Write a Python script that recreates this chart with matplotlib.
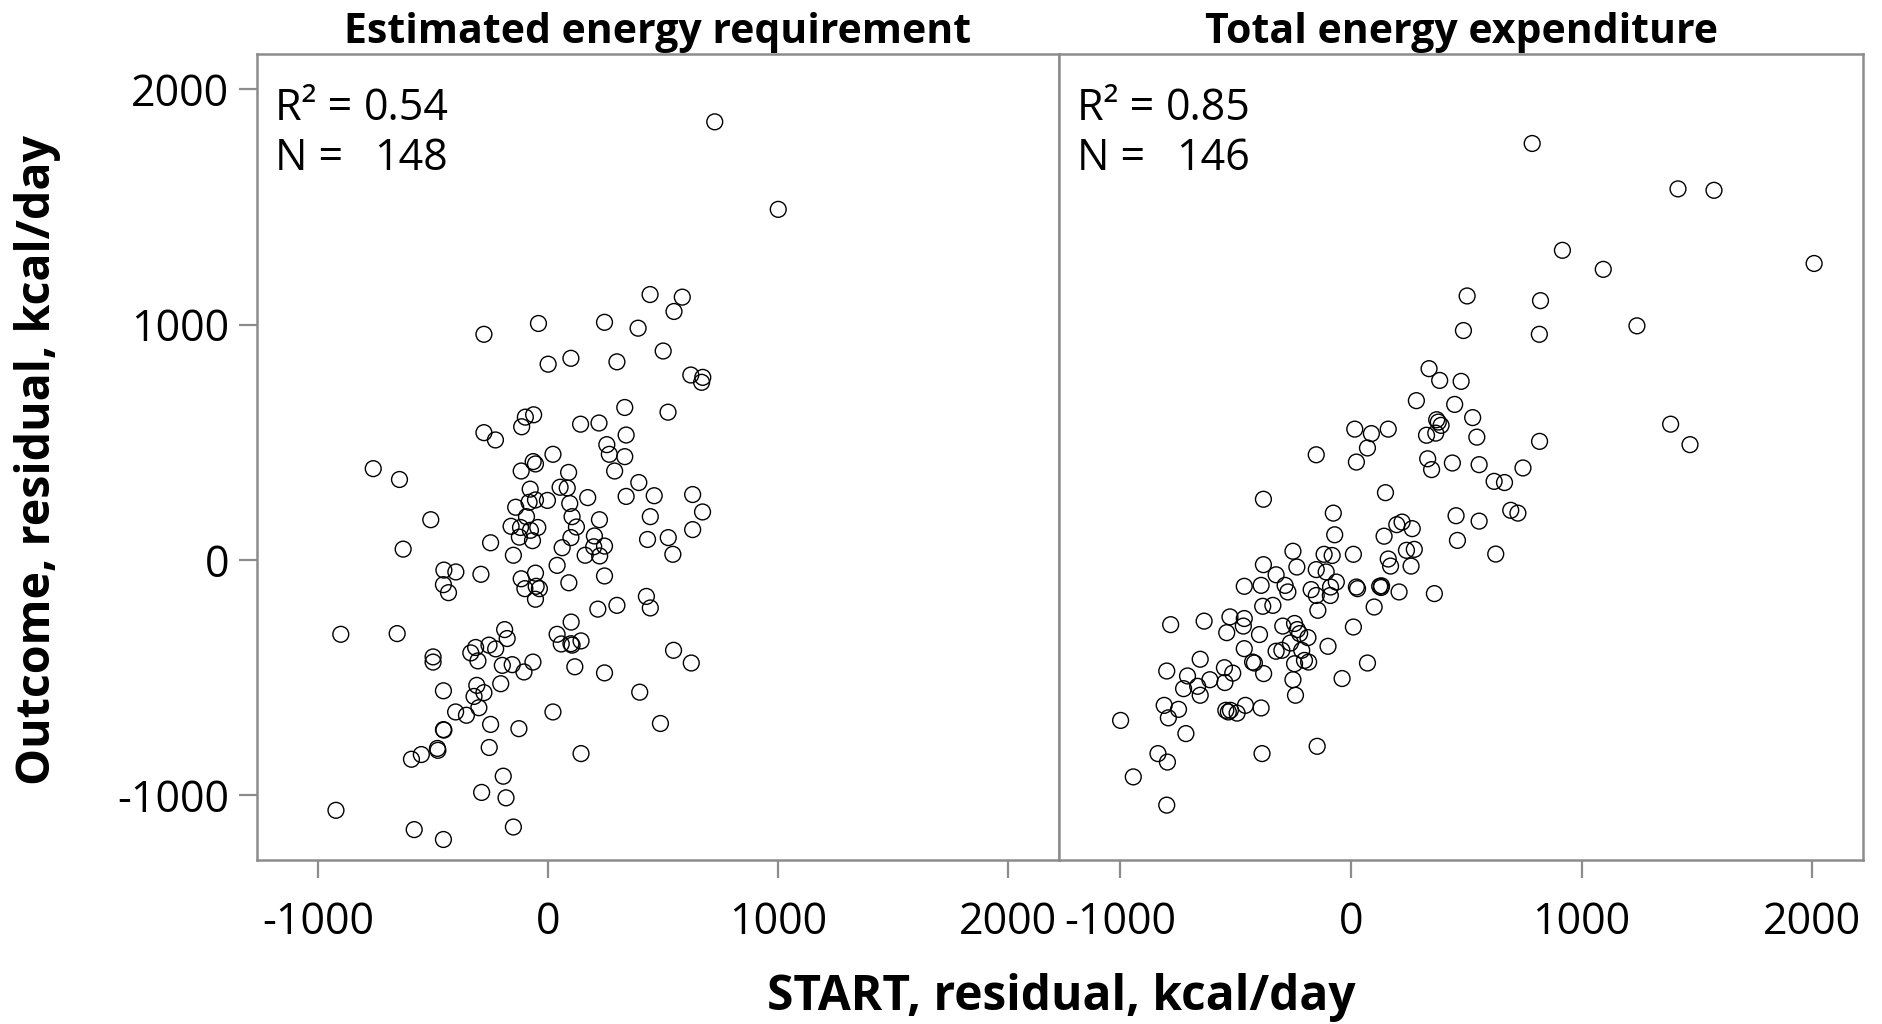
import numpy as np
import matplotlib
matplotlib.use("Agg")
import matplotlib.pyplot as plt

plt.rcParams['font.family'] = ['Open Sans', 'DejaVu Sans']

# Panel titles and annotation text
panel_titles = ["Estimated energy requirement", "Total energy expenditure"]
r2_values = ["0.54", "0.85"]
n_values = ["148", "146"]

# Estimated energy requirement panel (START residual, outcome residual), kcal/day
eer_x = [724, 1000, -279, -42, 0, 99, 245, 391, 443, 583, 547, 500, 299, 620, 672, 667,
         333, 521, 221, 141, -99, -63, -115, -279, -229, 339, 255, 266, 333, 21, -65, -55,
         -117, 89, 289, -760, -646, -78, 52, 83, 394, 628, 461, 339, 172, -3, -55, -83,
         -141, 94, -94, 104, 223, 444, 671, -510, -161, -120, -45, -77, -125, -68, 123, 99,
         201, 628, 522, 432, -250, 61, 198, 245, 161, 224, 542, -630, -151, 39, -453, -401,
         -292, -55, -455, -433, -117, -101, -52, -38, -55, 245, 90, 427, 444, 216, 299, 100,
         -901, -656, -500, -500, -189, -178, -336, -315, -257, -228, -305, -199, -156, -105, -66, 39,
         57, 104, 99, 143, 116, 245, 545, 622, -455, -310, -279, -322, -301, -206, -402, -355,
         21, -250, -127, -455, -453, -481, -479, -594, -551, -256, -195, -289, -183, -922, -582, -455,
         -151, 398, 488, 143]
eer_y = [1862, 1490, 959, 1005, 832, 857, 1010, 985, 1128, 1117, 1056, 888, 842, 786, 776, 755,
         648, 628, 582, 577, 607, 617, 566, 541, 510, 531, 490, 449, 439, 449, 418, 408,
         378, 372, 378, 388, 342, 301, 309, 306, 329, 278, 273, 270, 265, 253, 255, 245,
         224, 240, 184, 184, 171, 184, 204, 171, 143, 138, 138, 126, 97, 82, 140, 95,
         102, 129, 95, 87, 73, 52, 56, 59, 20, 17, 24, 46, 20, -23, -43, -51,
         -61, -56, -105, -139, -80, -122, -112, -122, -167, -68, -97, -155, -204, -209, -193, -264,
         -316, -313, -412, -434, -296, -334, -395, -372, -362, -378, -429, -448, -445, -476, -434, -316,
         -357, -362, -356, -344, -454, -480, -384, -438, -556, -533, -564, -580, -628, -526, -646, -660,
         -646, -699, -717, -721, -723, -801, -809, -847, -827, -797, -919, -988, -1011, -1064, -1146, -1188,
         -1135, -562, -695, -823]

# Total energy expenditure panel
tee_x = [786, 1418, 1574, 917, 1094, 2008, 504, 822, 488, 817, 1240, 1386, 1470, 818, 339, 385,
         478, 284, 450, 372, 379, 391, 528, 328, 368, 546, 17, 89, 162, 72, 24, 333,
         350, 440, 556, 621, 666, 746, 150, 456, 556, 693, 724, 199, 222, 266, 144, 462,
         241, 275, 628, 11, 162, 172, 261, 24, 29, 125, 131, 133, 209, 362, 101, 11,
         72, -38, -150, -379, -76, -70, -251, -116, -81, -379, -234, -324, -150, -107, -462, -389,
         -285, -273, -172, -150, -63, -88, -89, -382, -338, -143, -781, -636, -524, -462, -538, -466,
         -396, -295, -244, -232, -222, -186, -99, -462, -324, -299, -262, -213, -653, -426, -418, -378,
         -244, -201, -183, -251, -240, -798, -708, -725, -664, -653, -611, -548, -512, -546, -809, -747,
         -791, -998, -715, -542, -531, -522, -493, -457, -389, -836, -795, -385, -146, -943, -798]
tee_y = [1770, 1577, 1571, 1316, 1235, 1260, 1122, 1102, 975, 959, 995, 577, 490, 504, 813, 763,
         759, 677, 661, 596, 586, 572, 605, 530, 539, 522, 556, 537, 556, 476, 416, 430,
         384, 412, 405, 334, 329, 391, 286, 188, 165, 211, 199, 150, 161, 133, 101, 83,
         41, 45, 25, 24, 4, -26, -26, -115, -122, -112, -117, -110, -136, -143, -200, -285,
         -438, -504, 447, 258, 199, 107, 37, 24, 19, -20, -30, -63, -41, -51, -112, -108,
         -108, -136, -126, -151, -94, -115, -151, -197, -193, -214, -275, -260, -242, -249, -309, -281,
         -317, -281, -270, -296, -313, -330, -367, -377, -388, -384, -353, -384, -422, -434, -438, -483,
         -441, -427, -434, -509, -575, -472, -493, -547, -537, -575, -509, -458, -481, -521, -618, -635,
         -671, -682, -738, -639, -646, -639, -651, -618, -629, -823, -859, -823, -792, -922, -1042]

ticks = [-1000, 0, 1000, 2000]
tick_labels = ["-1000", "0", "1000", "2000"]

frame_col = "#8c8c8c"

fig = plt.figure(figsize=(18.83, 10.24), dpi=100)
ax1 = fig.add_axes([0.1365, 0.1602, 0.4259, 0.787])
ax2 = fig.add_axes([0.5624, 0.1602, 0.4270, 0.787])

panels = [(ax1, eer_x, eer_y), (ax2, tee_x, tee_y)]
for i, (ax, xs, ys) in enumerate(panels):
    ax.scatter(xs, ys, s=130, facecolors="none", edgecolors="black", linewidths=1.0, zorder=3)
    ax.set_xlim(-1265, 2220)
    ax.set_ylim(-1275, 2150)
    ax.set_xticks(ticks)
    ax.set_xticklabels(tick_labels)
    ax.set_yticks(ticks)
    ax.set_yticklabels(tick_labels)
    for sp in ax.spines.values():
        sp.set_color(frame_col)
        sp.set_linewidth(1.8)
    ax.tick_params(axis="both", length=13, width=1.6, color=frame_col, labelsize=31)
    ax.tick_params(axis="x", pad=16)
    ax.tick_params(axis="y", pad=7)
    ax.set_title(panel_titles[i], fontsize=29.5, fontweight="bold", pad=8)
    # R-squared and N annotation, numbers aligned in a column
    ax.text(0.0224, 0.918, "R\u00b2 =", transform=ax.transAxes,
            fontsize=31, va="baseline", ha="left")
    ax.text(0.133, 0.918, r2_values[i], transform=ax.transAxes,
            fontsize=31, va="baseline", ha="left")
    ax.text(0.0224, 0.856, "N =", transform=ax.transAxes,
            fontsize=31, va="baseline", ha="left")
    ax.text(0.146, 0.856, n_values[i], transform=ax.transAxes,
            fontsize=31, va="baseline", ha="left")

ax2.tick_params(axis="y", left=False, labelleft=False)

fig.text(0.5635, 0.026, "START, residual, kcal/day", ha="center", va="center",
         fontsize=34.5, fontweight="bold")
fig.text(0.020, 0.551, "Outcome, residual, kcal/day", ha="center", va="center",
         rotation=90, fontsize=33.5, fontweight="bold")

fig.savefig("out.png", dpi=100)
